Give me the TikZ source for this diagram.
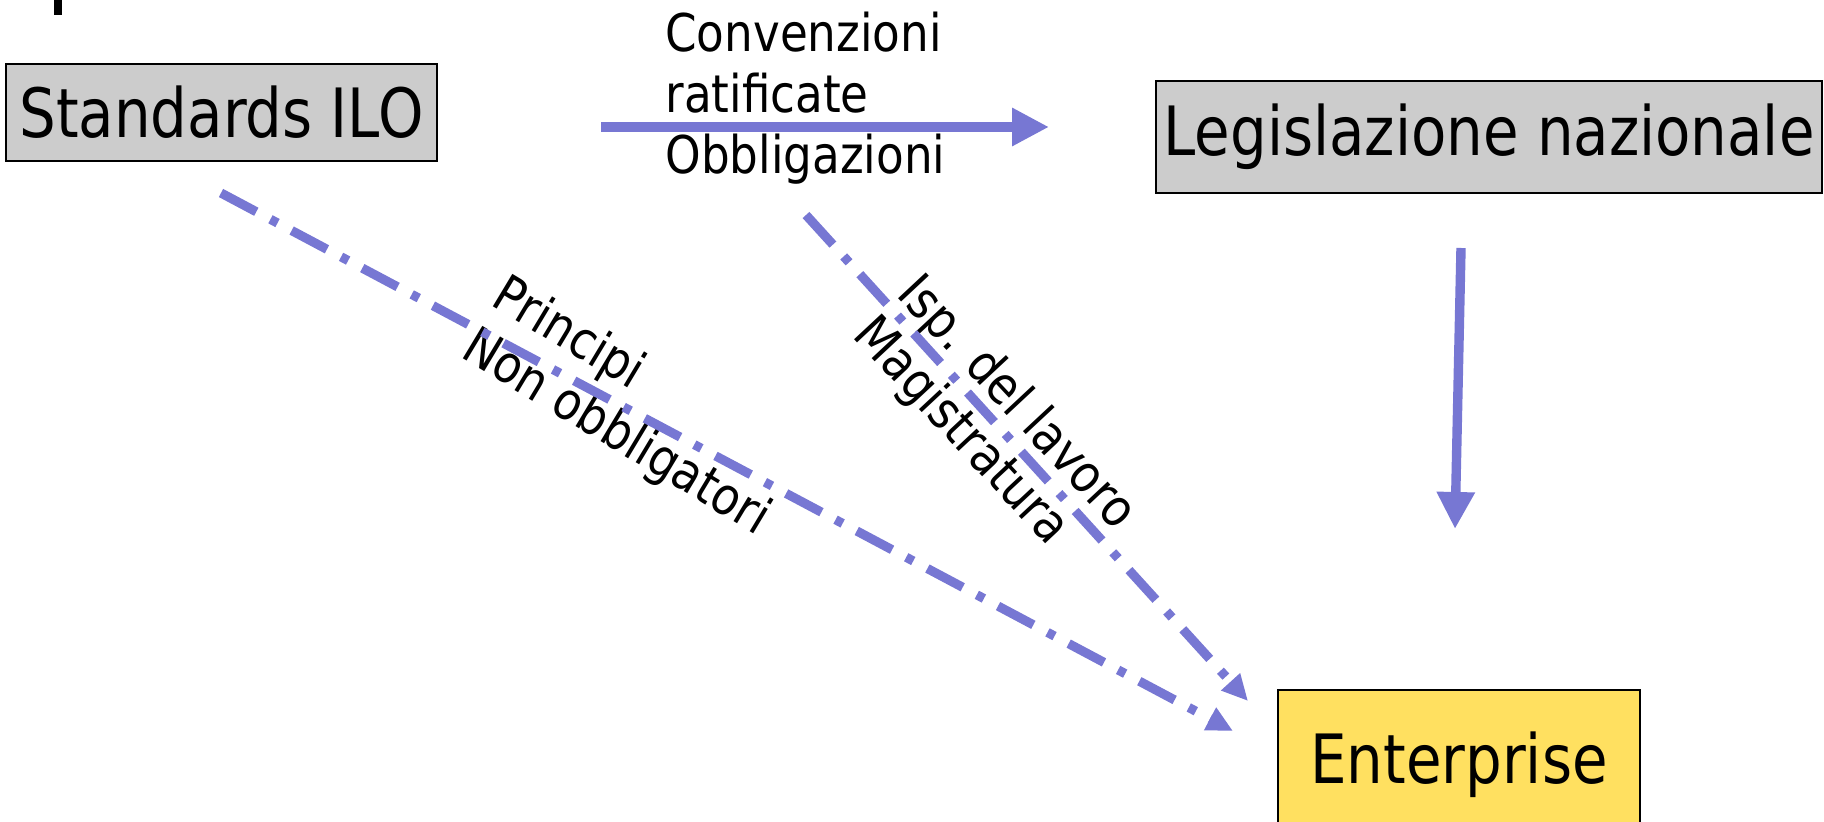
\documentclass[tikz,border=0pt]{standalone}
\usepackage{fontspec}
\setmainfont{DejaVu Sans}[FakeStretch=0.87]
\newfontfamily\bigfont{DejaVu Sans}[FakeStretch=0.85]
\usetikzlibrary{arrows.meta}
\definecolor{arr}{RGB}{119,119,211}
\definecolor{boxgray}{RGB}{204,204,204}
\definecolor{entyellow}{RGB}{255,224,96}
\begin{document}
\begin{tikzpicture}[x=0.5pt,y=-0.5pt,
  graybox/.style={draw=black, line width=1pt, fill=boxgray, inner sep=0pt},
  yelbox/.style={draw=black, line width=1pt, fill=entyellow, inner sep=0pt},
  big/.style={font=\bigfont\fontsize{34}{40}\selectfont},
  lab/.style={font=\fontsize{26}{30}\selectfont, inner sep=0pt},
  solidarr/.style={draw=arr, line width=4.7pt, -{Triangle[length=18.5pt,width=18pt]}},
  dasharr/.style={draw=arr, line width=4.6pt, dash pattern=on 20pt off 8pt on 4pt off 8pt, -{Triangle[length=13pt,width=12pt]}}]
\useasboundingbox (0,0) rectangle (1824,822);
\fill[black] (54,0) rectangle (62,15);
\node[graybox, big, minimum width=215.5pt, minimum height=48.5pt] (std) at (221.5,112.5) {Standards ILO};
\node[graybox, big, minimum width=333pt, minimum height=56pt] (leg) at (1489,137) {Legislazione nazionale};
\node[yelbox, big, minimum width=181pt, minimum height=75pt] (ent) at (1459,765) {Enterprise};
\node[lab, anchor=base west] (c1) at (665,52) {Convenzioni};
\node[lab, anchor=base west] (c2) at (665,113) {ratificate};
\node[lab, anchor=base west] (c3) at (665,174) {Obbligazioni};
\node[lab, align=left, rotate=-31] (p) at (631,408) {Principi\\Non obbligatori};
\node[lab, align=left, rotate=-47] (i) at (994,424) {Isp. del lavoro\\Magistratura};
\coordinate (h1) at (601,127);
\coordinate (h2) at (1049,127);
\coordinate (v1) at (1461,248);
\coordinate (v2) at (1455,529);
\coordinate (d1s) at (221,193);
\coordinate (d1e) at (1233,731);
\coordinate (d2s) at (806,215);
\coordinate (d2e) at (1248,701);
\draw[solidarr] (h1) -- (h2);
\draw[solidarr] (v1) -- (v2);
\draw[dasharr] (d1s) -- (d1e);
\draw[dasharr] (d2s) -- (d2e);
\end{tikzpicture}
\end{document}
